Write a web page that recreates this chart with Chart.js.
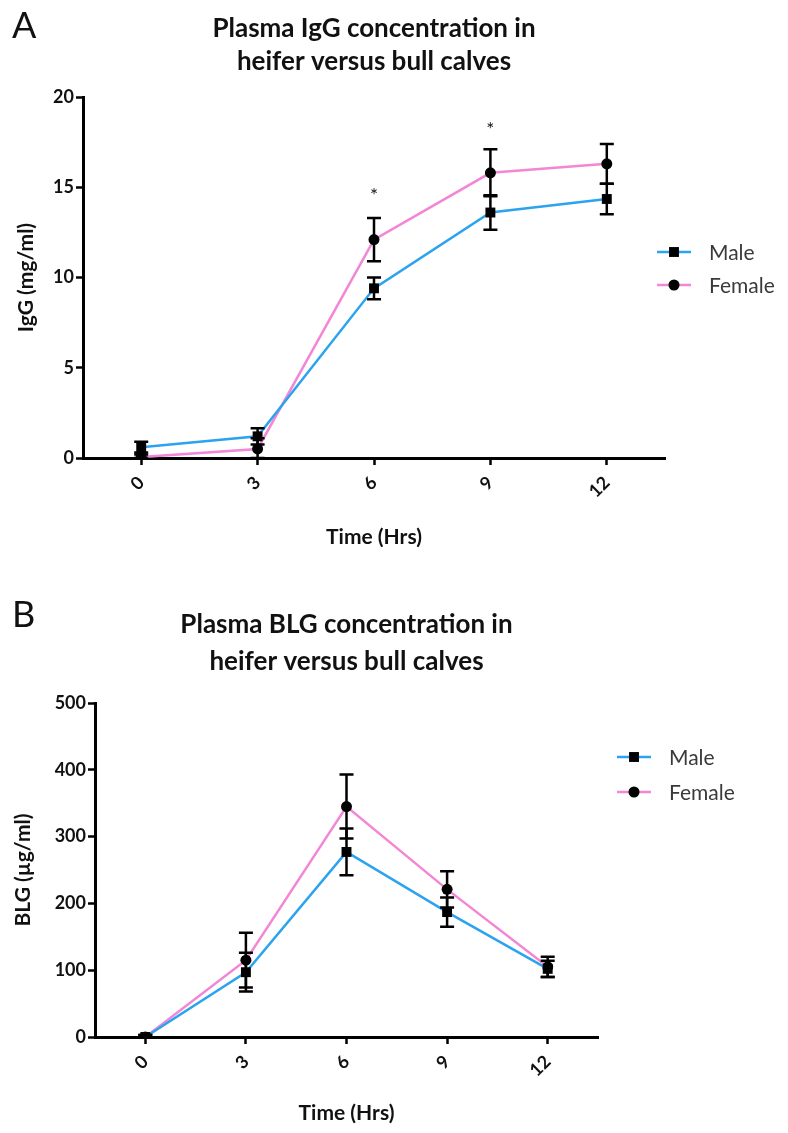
<!DOCTYPE html>
<html>
<head>
<meta charset="utf-8">
<script src="https://cdn.jsdelivr.net/npm/chart.js@4.4.1/dist/chart.umd.min.js"></script>
<style>
  body { margin: 0; background: #fff; }
  .panel { position: absolute; left: 0; }
</style>
</head>
<body>
<div class="panel" style="top:0"><canvas id="iggChart" width="788" height="570"></canvas></div>
<div class="panel" style="top:575px"><canvas id="blgChart" width="788" height="558"></canvas></div>
<script>
// time points (hours)
const hours = [0, 3, 6, 9, 12];

// Panel A - plasma IgG (mg/ml), mean and SEM
const maleIgG = [0.6, 1.2, 9.4, 13.6, 14.35];
const maleIgGErr = [0.3, 0.45, 0.6, 0.95, 0.85];
const femaleIgG = [0.05, 0.5, 12.1, 15.8, 16.3];
const femaleIgGErr = [0.15, 0.6, 1.2, 1.3, 1.1];
const iggTicks = [0, 5, 10, 15, 20];
const iggSigHours = [6, 9];
const iggSigLevel = [14.5, 18.2];

// Panel B - plasma BLG (µg/ml), mean and SEM
const maleBLG = [0, 97, 277, 187, 102];
const maleBLGErr = [3, 29, 35, 22, 12];
const femaleBLG = [0, 115, 345, 221, 105];
const femaleBLGErr = [3, 41, 48, 27, 15];
const blgTicks = [0, 100, 200, 300, 400, 500];

const MALE_COLOR = '#2ba3ef';
const FEMALE_COLOR = '#f386d5';
const FONT = 'Lato, "Open Sans", sans-serif';

// vertical SEM bars with caps
const errorBars = {
  id: 'errorBars',
  afterDatasetsDraw(chart) {
    const { ctx, scales: { x, y } } = chart;
    ctx.save();
    ctx.strokeStyle = '#000';
    ctx.lineWidth = 2.5;
    chart.data.datasets.forEach(ds => {
      ds.data.forEach((p, i) => {
        const e = ds.errors[i];
        const px = x.getPixelForValue(p.x);
        const top = y.getPixelForValue(p.y + e);
        const bot = y.getPixelForValue(Math.max(0, p.y - e));
        ctx.beginPath();
        ctx.moveTo(px, top); ctx.lineTo(px, bot);
        ctx.moveTo(px - 7, top); ctx.lineTo(px + 7, top);
        ctx.moveTo(px - 7, bot); ctx.lineTo(px + 7, bot);
        ctx.stroke();
      });
    });
    ctx.restore();
  }
};

// panel letter, two-line title, asterisks and legend
const decorations = {
  id: 'decorations',
  afterDraw(chart) {
    const o = chart.options.plugins.decorations;
    const { ctx, chartArea, scales: { x, y } } = chart;
    ctx.save();
    ctx.fillStyle = '#111';
    ctx.font = `400 36px ${FONT}`;
    ctx.textAlign = 'left';
    ctx.textBaseline = 'alphabetic';
    ctx.fillText(o.letter, 12, o.letterY);

    ctx.font = `700 26px ${FONT}`;
    ctx.textAlign = 'center';
    const cx = (chartArea.left + chartArea.right) / 2;
    o.title.forEach((t, i) => ctx.fillText(t, cx, o.titleY[i]));

    ctx.font = `400 19px ${FONT}`;
    ctx.textBaseline = 'middle';
    (o.sigHours || []).forEach((h, i) => {
      ctx.fillText('*', x.getPixelForValue(h), y.getPixelForValue(o.sigLevel[i]));
    });

    chart.data.datasets.forEach((ds, i) => {
      const ly = o.legendY + i * o.legendGap;
      ctx.strokeStyle = ds.borderColor;
      ctx.lineWidth = 2.5;
      ctx.beginPath();
      ctx.moveTo(o.legendX, ly); ctx.lineTo(o.legendX + 34, ly);
      ctx.stroke();
      ctx.fillStyle = '#000';
      Chart.helpers.drawPoint(ctx, { pointStyle: ds.pointStyle, radius: ds.pointRadius, borderWidth: 0 }, o.legendX + 17, ly);
      ctx.fillStyle = '#3a3a3a';
      ctx.font = `400 21px ${FONT}`;
      ctx.textAlign = 'left';
      ctx.fillText(ds.label, o.legendX + 52, ly + 1);
    });
    ctx.restore();
  }
};

function series(label, values, errors, color, style, radius) {
  return {
    label,
    data: hours.map((h, i) => ({ x: h, y: values[i] })),
    errors,
    borderColor: color,
    borderWidth: 2.5,
    pointStyle: style,
    pointRadius: radius,
    pointBackgroundColor: '#000',
    pointBorderColor: '#000',
    pointBorderWidth: 0,
    tension: 0
  };
}

function buildChart(id, o) {
  const canvas = document.getElementById(id);
  const W = canvas.width, H = canvas.height;
  const tickFont = { family: FONT, size: 18, weight: '700' };
  const titleFont = { family: FONT, size: 21, weight: '700' };
  const axisGrid = { drawOnChartArea: false, drawTicks: true, tickLength: 7, tickWidth: 2.5, tickColor: '#000' };
  return new Chart(canvas, {
    type: 'line',
    data: {
      datasets: [
        series('Male', o.male, o.maleErr, MALE_COLOR, 'rect', 7),
        series('Female', o.female, o.femaleErr, FEMALE_COLOR, 'circle', 5.5)
      ]
    },
    options: {
      responsive: false,
      animation: false,
      layout: { padding: { top: o.area.top, right: W - o.area.right, left: 0, bottom: 0 } },
      scales: {
        x: {
          type: 'linear', min: -1.5, max: 13.5,
          afterBuildTicks: s => { s.ticks = hours.map(v => ({ value: v })); },
          afterFit: s => { s.height = H - o.area.bottom; },
          ticks: { minRotation: 45, maxRotation: 45, font: tickFont, color: '#111', padding: 7 },
          grid: axisGrid,
          border: { color: '#000', width: 3 },
          title: { display: true, text: 'Time (Hrs)', font: titleFont, color: '#111', padding: { top: 0, bottom: o.xTitlePad } }
        },
        y: {
          min: 0, max: o.yTicks[o.yTicks.length - 1],
          afterBuildTicks: s => { s.ticks = o.yTicks.map(v => ({ value: v })); },
          afterFit: s => { s.width = o.area.left; },
          ticks: { font: tickFont, color: '#111', padding: 2 },
          grid: axisGrid,
          border: { color: '#000', width: 3 },
          title: { display: true, text: o.yTitle, font: titleFont, color: '#111', padding: { top: o.yTitlePad, bottom: 0 } }
        }
      },
      plugins: {
        legend: { display: false },
        tooltip: { enabled: false },
        decorations: o.deco
      }
    },
    plugins: [errorBars, decorations]
  });
}

buildChart('iggChart', {
  male: maleIgG, maleErr: maleIgGErr, female: femaleIgG, femaleErr: femaleIgGErr,
  yTicks: iggTicks, yTitle: 'IgG (mg/ml)',
  area: { left: 83, right: 665, top: 97, bottom: 458 },
  xTitlePad: 20, yTitlePad: 14,
  deco: {
    letter: 'A', letterY: 38,
    title: ['Plasma IgG concentration in', 'heifer versus bull calves'], titleY: [37, 70],
    sigHours: iggSigHours, sigLevel: iggSigLevel,
    legendX: 657, legendY: 252, legendGap: 33
  }
});

buildChart('blgChart', {
  male: maleBLG, maleErr: maleBLGErr, female: femaleBLG, femaleErr: femaleBLGErr,
  yTicks: blgTicks, yTitle: 'BLG (µg/ml)',
  area: { left: 95, right: 598, top: 128, bottom: 462 },
  xTitlePad: 7, yTitlePad: 11,
  deco: {
    letter: 'B', letterY: 52,
    title: ['Plasma BLG concentration in', 'heifer versus bull calves'], titleY: [58, 95],
    legendX: 617, legendY: 182, legendGap: 35
  }
});
</script>
</body>
</html>
